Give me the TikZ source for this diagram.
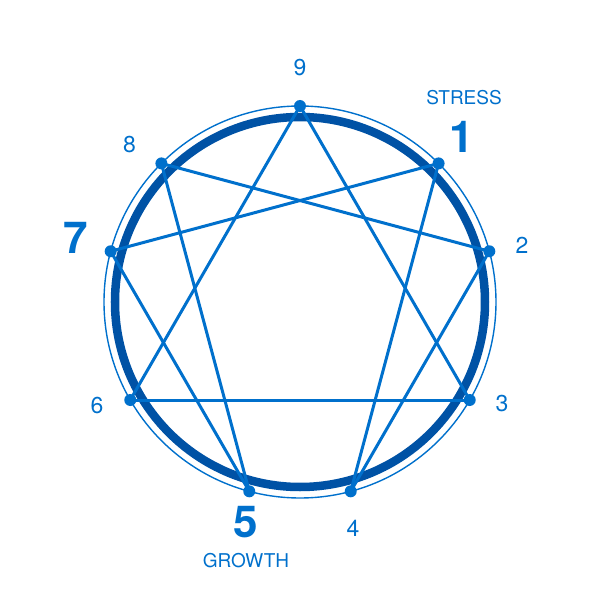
\documentclass[tikz,border=0pt]{standalone}
\usepackage{fontspec}
\setmainfont{TeX Gyre Heros}
\usepackage{xcolor}
\definecolor{starblue}{RGB}{0,112,204}
\definecolor{ringblue}{RGB}{0,82,165}

\begin{document}
\begin{tikzpicture}[x=1pt,y=1pt,line cap=round,
    ptdot/.style={circle,fill=starblue,inner sep=0pt,minimum size=12pt},
    numlabel/.style={text=starblue,inner sep=0pt,font=\fontsize{23}{23}\selectfont},
    biglabel/.style={text=starblue,inner sep=0pt,font=\fontsize{44}{44}\selectfont\bfseries},
    wordlabel/.style={text=starblue,inner sep=0pt,font=\fontsize{19}{19}\selectfont}]
        \useasboundingbox (-300,-298) rectangle (300,302);
        % background
        \draw[starblue,line width=1.4pt] (0,0) circle (196pt);
        \draw[ringblue,line width=8.5pt] (0,0) circle (185pt);
        % points
        \foreach \n/\a in {9/0,1/45,2/75,3/120,4/165,5/195,6/240,7/285,8/315}
          \node[ptdot] (p\n) at ({90-\a}:196pt) {};
        % lines
        \foreach \s/\t in {9/3,3/6,6/9,1/4,4/2,2/8,8/5,5/7,7/1}
          \draw[starblue,line width=3pt] (p\s.center) -- (p\t.center);
        % labels
        \node[numlabel] (l9) at (0,234) {9};
        \node[numlabel] (l8) at (-170.5,157) {8};
        \node[numlabel] (l2) at (222,57) {2};
        \node[numlabel] (l3) at (202,-102) {3};
        \node[numlabel] (l6) at (-203,-104) {6};
        \node[numlabel] (l4) at (53,-226) {4};
        \node[biglabel] (l1) at (162,165) {1};
        \node[biglabel] (l7) at (-224,64) {7};
        \node[biglabel] (l5) at (-54,-220) {5};
        \node[wordlabel] (stress) at (164,204) {STRESS};
        \node[wordlabel] (growth) at (-54,-259) {GROWTH};
\end{tikzpicture}
\end{document}
